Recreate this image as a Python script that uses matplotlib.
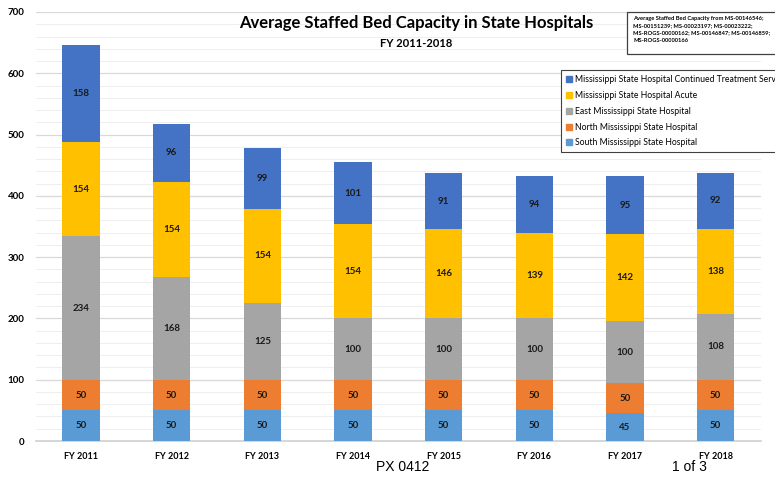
import numpy as np
import matplotlib.pyplot as plt
from matplotlib.patches import Patch, Rectangle

years = ['FY 2011', 'FY 2012', 'FY 2013', 'FY 2014',
         'FY 2015', 'FY 2016', 'FY 2017', 'FY 2018']
south = [50, 50, 50, 50, 50, 50, 45, 50]
north = [50, 50, 50, 50, 50, 50, 50, 50]
east = [234, 168, 125, 100, 100, 100, 100, 108]
acute = [154, 154, 154, 154, 146, 139, 142, 138]
cts = [158, 96, 99, 101, 91, 94, 95, 92]

series = [
    ('South Mississippi State Hospital', south, '#5B9BD5'),
    ('North Mississippi State Hospital', north, '#ED7D31'),
    ('East Mississippi State Hospital', east, '#A5A5A5'),
    ('Mississippi State Hospital Acute', acute, '#FFC000'),
    ('Mississippi State Hospital Continued Treatment Services', cts, '#4472C4'),
]

plt.rcParams['font.family'] = ['Lato', 'DejaVu Sans']

fig = plt.figure(figsize=(7.75, 4.78), dpi=100)
ax = fig.add_axes([0.046, 0.0774, 0.936, 0.8975])

x = np.arange(len(years))
bottom = np.zeros(len(years))
for name, vals, col in series:
    vals = np.array(vals)
    ax.bar(x, vals, 0.41, bottom=bottom, color=col, zorder=3)
    for xi, b, v in zip(x, bottom, vals):
        ax.text(xi, b + v / 2, str(v), ha='center', va='center',
                fontsize=7, fontweight='bold', color='#1a1a1a', zorder=4)
    bottom += vals

ax.set_xlim(-0.5, len(years) - 0.5)
ax.set_ylim(0, 700)
ax.set_yticks(range(0, 701, 100))
ax.set_yticks(range(0, 701, 20), minor=True)
ax.grid(axis='y', which='major', color='#d9d9d9', lw=0.9, zorder=0)
ax.grid(axis='y', which='minor', color='#eeeeee', lw=0.7, zorder=0)
ax.set_xticks(x)
ax.set_xticklabels(years, fontsize=6.5, fontweight='bold')
ax.tick_params(axis='y', which='both', labelsize=7, length=0, pad=8)
ax.tick_params(axis='x', length=0, pad=8)
for lab in ax.get_yticklabels():
    lab.set_fontweight('bold')
for s in ['top', 'right', 'left']:
    ax.spines[s].set_visible(False)
ax.spines['bottom'].set_color('#d0d0d0')
ax.spines['bottom'].set_linewidth(1.2)

fig.text(0.537, 0.952, 'Average Staffed Bed Capacity in State Hospitals',
         ha='center', va='center', fontsize=12, fontweight='bold')
fig.text(0.537, 0.909, 'FY 2011-2018', ha='center', va='center',
         fontsize=8, fontweight='bold')

# source note box, runs off the right edge like the original
fig.patches.append(Rectangle((627 / 775, 1 - 54 / 478), 160 / 775, 42 / 478,
                             transform=fig.transFigure, fc='white',
                             ec='#404040', lw=0.9, zorder=5))
src = ('Average Staffed Bed Capacity from MS-00146546;\n'
       'MS-00151239; MS-00023197; MS-00023222;\n'
       'MS-ROGS-00000162; MS-00146847; MS-00146859;\n'
       'MS-ROGS-00000166')
fig.text(633 / 775, 1 - 16 / 478, src, ha='left', va='top', fontsize=4.15,
         fontweight='bold', linespacing=1.55, zorder=6)

handles = [Patch(color=c, label=n) for n, v, c in series[::-1]]
leg = fig.legend(handles=handles, loc='upper left',
                 bbox_to_anchor=(0.718, 0.862), fontsize=6.2,
                 handlelength=0.7, handleheight=0.7, handletextpad=0.3,
                 labelspacing=0.78, borderpad=0.6, fancybox=False,
                 edgecolor='#404040', framealpha=1)
leg.get_frame().set_linewidth(0.8)

fig.text(0.519, 0.022, 'PX 0412', ha='center', va='center', fontsize=10,
         family=['Liberation Sans'])
fig.text(0.89, 0.022, '1 of 3', ha='center', va='center', fontsize=10,
         family=['Liberation Sans'])

fig.savefig('out.png', dpi=100)
